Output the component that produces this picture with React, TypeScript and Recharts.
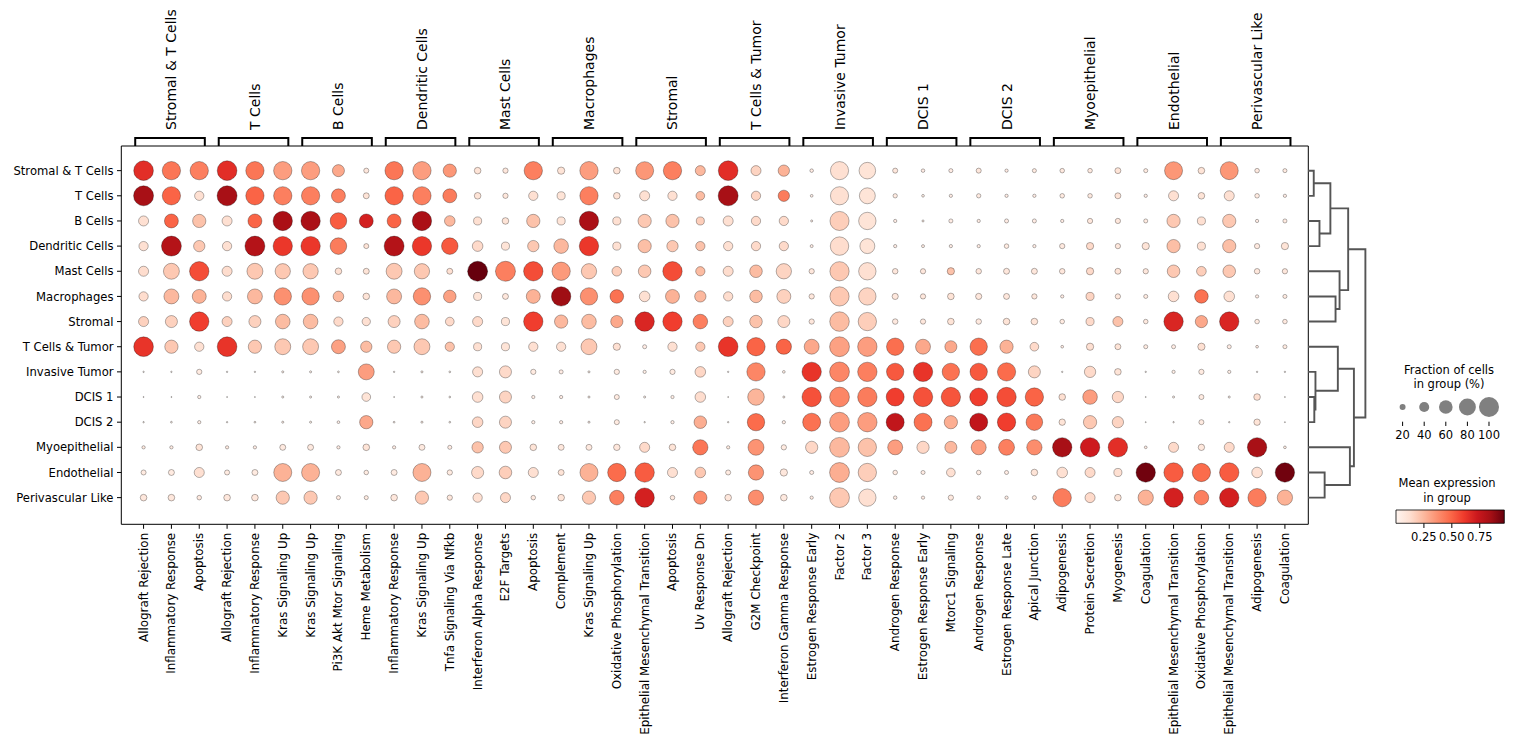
import React from "react";
import { ScatterChart, Scatter, XAxis, YAxis, ZAxis, ReferenceArea } from "recharts";

const FONT = "'DejaVu Sans', 'Liberation Sans', sans-serif";

// cell groups (rows) — the column groups use the same names in the same order
const ROWS = [
  "Stromal & T Cells", "T Cells", "B Cells", "Dendritic Cells", "Mast Cells", "Macrophages", "Stromal",
  "T Cells & Tumor", "Invasive Tumor", "DCIS 1", "DCIS 2", "Myoepithelial", "Endothelial", "Perivascular Like",
];

const GROUP_TERMS = [
  ["Allograft Rejection", "Inflammatory Response", "Apoptosis"],
  ["Allograft Rejection", "Inflammatory Response", "Kras Signaling Up"],
  ["Kras Signaling Up", "Pi3K Akt Mtor Signaling", "Heme Metabolism"],
  ["Inflammatory Response", "Kras Signaling Up", "Tnfa Signaling Via Nfkb"],
  ["Interferon Alpha Response", "E2F Targets", "Apoptosis"],
  ["Complement", "Kras Signaling Up", "Oxidative Phosphorylation"],
  ["Epithelial Mesenchymal Transition", "Apoptosis", "Uv Response Dn"],
  ["Allograft Rejection", "G2M Checkpoint", "Interferon Gamma Response"],
  ["Estrogen Response Early", "Factor 2", "Factor 3"],
  ["Androgen Response", "Estrogen Response Early", "Mtorc1 Signaling"],
  ["Androgen Response", "Estrogen Response Late", "Apical Junction"],
  ["Adipogenesis", "Protein Secretion", "Myogenesis"],
  ["Coagulation", "Epithelial Mesenchymal Transition", "Oxidative Phosphorylation"],
  ["Epithelial Mesenchymal Transition", "Adipogenesis", "Coagulation"],
];

// per term: fraction of cells in group (%) and mean expression, one value per row (ROWS order)
const ALLOGRAFT_FRAC = [98, 100, 40, 36, 40, 36, 40, 98, 3, 2, 3, 9, 16, 23];
const ALLOGRAFT_EXPR = [0.65, 0.84, 0.12, 0.12, 0.13, 0.13, 0.17, 0.63, 0.02, 0.02, 0.02, 0.06, 0.06, 0.08];
const INFLAM_FRAC = [89, 89, 62, 100, 74, 68, 51, 58, 3, 2, 4, 9, 20, 23];
const INFLAM_EXPR = [0.45, 0.5, 0.5, 0.8, 0.2, 0.25, 0.17, 0.2, 0.02, 0.02, 0.02, 0.05, 0.06, 0.08];
const APOPTOSIS_FRAC = [89, 36, 58, 47, 96, 62, 96, 36, 17, 9, 9, 23, 40, 14];
const APOPTOSIS_EXPR = [0.42, 0.12, 0.22, 0.2, 0.56, 0.27, 0.6, 0.12, 0.06, 0.04, 0.04, 0.1, 0.12, 0.07];
const KRAS_FRAC = [89, 89, 96, 96, 70, 83, 66, 74, 5, 5, 5, 20, 87, 58];
const KRAS_EXPR = [0.33, 0.42, 0.83, 0.62, 0.2, 0.37, 0.24, 0.2, 0.03, 0.03, 0.03, 0.07, 0.27, 0.2];
const PI3K_FRAC = [51, 62, 78, 78, 23, 43, 36, 62, 4, 5, 7, 9, 20, 12];
const PI3K_EXPR = [0.3, 0.42, 0.52, 0.43, 0.12, 0.25, 0.14, 0.32, 0.02, 0.03, 0.03, 0.05, 0.07, 0.06];
const HEME_FRAC = [16, 20, 62, 16, 20, 23, 31, 47, 74, 33, 58, 23, 14, 12];
const HEME_EXPR = [0.08, 0.1, 0.7, 0.1, 0.1, 0.1, 0.12, 0.24, 0.33, 0.1, 0.3, 0.1, 0.06, 0.06];
const TNFA_FRAC = [58, 62, 43, 78, 20, 54, 33, 36, 4, 4, 4, 12, 17, 17];
const TNFA_EXPR = [0.35, 0.43, 0.25, 0.53, 0.12, 0.32, 0.14, 0.22, 0.02, 0.02, 0.02, 0.05, 0.06, 0.08];
const IFNA_FRAC = [23, 23, 30, 43, 100, 30, 40, 30, 40, 43, 43, 47, 51, 36];
const IFNA_EXPR = [0.1, 0.1, 0.12, 0.14, 0.97, 0.1, 0.14, 0.12, 0.12, 0.12, 0.15, 0.22, 0.14, 0.12];
const E2F_FRAC = [17, 17, 23, 30, 100, 20, 30, 30, 51, 51, 51, 51, 54, 40];
const E2F_EXPR = [0.08, 0.08, 0.1, 0.1, 0.42, 0.08, 0.1, 0.1, 0.14, 0.16, 0.16, 0.2, 0.18, 0.15];
const COMPLEMENT_FRAC = [26, 30, 30, 66, 89, 96, 58, 36, 12, 9, 9, 20, 20, 23];
const COMPLEMENT_EXPR = [0.1, 0.1, 0.1, 0.25, 0.34, 0.86, 0.25, 0.12, 0.05, 0.05, 0.05, 0.08, 0.1, 0.1];
const OXPHOS_FRAC = [23, 23, 30, 30, 38, 60, 52, 26, 17, 16, 16, 22, 89, 66];
const OXPHOS_EXPR = [0.1, 0.1, 0.12, 0.12, 0.18, 0.46, 0.3, 0.12, 0.06, 0.06, 0.06, 0.08, 0.48, 0.42];
const EMT_FRAC = [87, 40, 58, 58, 54, 43, 96, 12, 9, 5, 3, 40, 96, 96];
const EMT_EXPR = [0.35, 0.12, 0.2, 0.23, 0.2, 0.12, 0.68, 0.05, 0.04, 0.03, 0.03, 0.14, 0.52, 0.7];
const UV_DN_FRAC = [40, 33, 30, 36, 36, 47, 66, 36, 43, 43, 54, 70, 43, 58];
const UV_DN_EXPR = [0.25, 0.24, 0.18, 0.22, 0.24, 0.25, 0.42, 0.2, 0.15, 0.13, 0.28, 0.45, 0.2, 0.38];
const G2M_FRAC = [40, 36, 36, 36, 54, 54, 54, 89, 89, 78, 83, 74, 70, 70];
const G2M_EXPR = [0.16, 0.16, 0.14, 0.14, 0.24, 0.24, 0.22, 0.5, 0.4, 0.26, 0.48, 0.36, 0.36, 0.38];
const IFNG_FRAC = [47, 47, 36, 36, 70, 62, 51, 70, 7, 5, 9, 17, 26, 23];
const IFNG_EXPR = [0.27, 0.43, 0.14, 0.14, 0.16, 0.17, 0.15, 0.5, 0.04, 0.03, 0.04, 0.06, 0.08, 0.07];
const ESTR_EARLY_FRAC = [10, 7, 5, 8, 17, 17, 17, 68, 96, 96, 87, 52, 12, 9];
const ESTR_EARLY_EXPR = [0.05, 0.04, 0.04, 0.05, 0.08, 0.08, 0.08, 0.3, 0.63, 0.55, 0.46, 0.15, 0.05, 0.05];
const FACTOR2_FRAC = [88, 88, 94, 90, 95, 95, 97, 99, 99, 99, 99, 99, 99, 99];
const FACTOR2_EXPR = [0.12, 0.12, 0.18, 0.13, 0.2, 0.2, 0.24, 0.32, 0.4, 0.4, 0.33, 0.25, 0.28, 0.2];
const FACTOR3_FRAC = [78, 74, 83, 68, 83, 83, 89, 96, 96, 96, 96, 89, 89, 83];
const FACTOR3_EXPR = [0.1, 0.1, 0.1, 0.1, 0.12, 0.16, 0.18, 0.33, 0.42, 0.43, 0.33, 0.22, 0.18, 0.12];
const ANDROGEN_FRAC = [16, 13, 9, 9, 18, 21, 18, 83, 83, 87, 87, 68, 14, 10];
const ANDROGEN_EXPR = [0.08, 0.06, 0.05, 0.05, 0.08, 0.08, 0.07, 0.47, 0.53, 0.6, 0.76, 0.33, 0.06, 0.05];
const MTORC1_FRAC = [12, 9, 12, 9, 26, 23, 23, 51, 83, 96, 58, 51, 33, 17];
const MTORC1_EXPR = [0.05, 0.05, 0.05, 0.05, 0.22, 0.1, 0.1, 0.3, 0.46, 0.54, 0.28, 0.25, 0.12, 0.07];
const ESTR_LATE_FRAC = [9, 9, 12, 14, 20, 20, 23, 58, 89, 96, 89, 74, 12, 9];
const ESTR_LATE_EXPR = [0.05, 0.05, 0.05, 0.06, 0.08, 0.08, 0.1, 0.27, 0.48, 0.56, 0.6, 0.42, 0.05, 0.05];
const APICAL_FRAC = [12, 9, 12, 9, 20, 17, 23, 33, 51, 89, 78, 70, 23, 12];
const APICAL_EXPR = [0.06, 0.05, 0.05, 0.05, 0.08, 0.08, 0.1, 0.14, 0.16, 0.5, 0.44, 0.38, 0.1, 0.06];
const ADIPO_FRAC = [14, 14, 9, 17, 18, 9, 14, 7, 3, 23, 22, 96, 43, 89];
const ADIPO_EXPR = [0.07, 0.06, 0.05, 0.07, 0.08, 0.05, 0.06, 0.05, 0.03, 0.12, 0.1, 0.84, 0.12, 0.43];
const PROT_SEC_FRAC = [14, 14, 17, 26, 26, 30, 30, 26, 47, 66, 58, 96, 40, 40];
const PROT_SEC_EXPR = [0.07, 0.07, 0.08, 0.14, 0.14, 0.16, 0.14, 0.12, 0.14, 0.33, 0.2, 0.72, 0.14, 0.14];
const MYOGEN_FRAC = [20, 20, 17, 17, 20, 17, 40, 20, 23, 47, 47, 96, 30, 23];
const MYOGEN_EXPR = [0.1, 0.1, 0.08, 0.08, 0.1, 0.08, 0.22, 0.1, 0.1, 0.15, 0.16, 0.65, 0.12, 0.1];
const COAG_FRAC = [12, 9, 12, 26, 17, 12, 14, 12, 3, 2, 2, 7, 96, 70];
const COAG_EXPR = [0.06, 0.05, 0.06, 0.1, 0.08, 0.06, 0.07, 0.06, 0.03, 0.02, 0.02, 0.05, 0.95, 0.27];

const TERMS: Record<string, { frac: number[]; expr: number[] }> = {
  "Allograft Rejection": { frac: ALLOGRAFT_FRAC, expr: ALLOGRAFT_EXPR },
  "Inflammatory Response": { frac: INFLAM_FRAC, expr: INFLAM_EXPR },
  "Apoptosis": { frac: APOPTOSIS_FRAC, expr: APOPTOSIS_EXPR },
  "Kras Signaling Up": { frac: KRAS_FRAC, expr: KRAS_EXPR },
  "Pi3K Akt Mtor Signaling": { frac: PI3K_FRAC, expr: PI3K_EXPR },
  "Heme Metabolism": { frac: HEME_FRAC, expr: HEME_EXPR },
  "Tnfa Signaling Via Nfkb": { frac: TNFA_FRAC, expr: TNFA_EXPR },
  "Interferon Alpha Response": { frac: IFNA_FRAC, expr: IFNA_EXPR },
  "E2F Targets": { frac: E2F_FRAC, expr: E2F_EXPR },
  "Complement": { frac: COMPLEMENT_FRAC, expr: COMPLEMENT_EXPR },
  "Oxidative Phosphorylation": { frac: OXPHOS_FRAC, expr: OXPHOS_EXPR },
  "Epithelial Mesenchymal Transition": { frac: EMT_FRAC, expr: EMT_EXPR },
  "Uv Response Dn": { frac: UV_DN_FRAC, expr: UV_DN_EXPR },
  "G2M Checkpoint": { frac: G2M_FRAC, expr: G2M_EXPR },
  "Interferon Gamma Response": { frac: IFNG_FRAC, expr: IFNG_EXPR },
  "Estrogen Response Early": { frac: ESTR_EARLY_FRAC, expr: ESTR_EARLY_EXPR },
  "Factor 2": { frac: FACTOR2_FRAC, expr: FACTOR2_EXPR },
  "Factor 3": { frac: FACTOR3_FRAC, expr: FACTOR3_EXPR },
  "Androgen Response": { frac: ANDROGEN_FRAC, expr: ANDROGEN_EXPR },
  "Mtorc1 Signaling": { frac: MTORC1_FRAC, expr: MTORC1_EXPR },
  "Estrogen Response Late": { frac: ESTR_LATE_FRAC, expr: ESTR_LATE_EXPR },
  "Apical Junction": { frac: APICAL_FRAC, expr: APICAL_EXPR },
  "Adipogenesis": { frac: ADIPO_FRAC, expr: ADIPO_EXPR },
  "Protein Secretion": { frac: PROT_SEC_FRAC, expr: PROT_SEC_EXPR },
  "Myogenesis": { frac: MYOGEN_FRAC, expr: MYOGEN_EXPR },
  "Coagulation": { frac: COAG_FRAC, expr: COAG_EXPR },
};

// row dendrogram, scipy-style: [left, right, height]; leaves 0..13, merged nodes numbered from 14
const DENDRO_LINKS = [
  [0, 1, 0.1], [2, 3, 0.2], [14, 15, 0.39], [5, 6, 0.48], [4, 17, 0.55], [16, 18, 0.7],
  [9, 10, 0.11], [8, 20, 0.13], [7, 21, 0.52], [12, 13, 0.29], [11, 23, 0.73], [22, 24, 0.8],
  [19, 25, 1.0],
];

const SIZE_LEGEND = [20, 40, 60, 80, 100];
const COLORBAR_TICKS = [0.25, 0.5, 0.75];
const EXPR_MAX = 0.97;

const REDS = ["#fff5f0", "#fee0d2", "#fcbba1", "#fc9272", "#fb6a4a", "#ef3b2c", "#cb181d", "#a50f15", "#67000d"];
const SIZE_EXP = 1.5;
const MAX_AREA = Math.PI * 10 * 10;

const X_DOMAIN: [number, number] = [-0.8, 41.84];
const Y_DOMAIN: [number, number] = [-0.98, 14.06];

function hexRgb(h: string) {
  return [1, 3, 5].map((i) => parseInt(h.slice(i, i + 2), 16));
}

function reds(t: number) {
  const v = Math.max(0, Math.min(1, t)) * (REDS.length - 1);
  const i = Math.min(REDS.length - 2, Math.floor(v));
  const f = v - i;
  const a = hexRgb(REDS[i]);
  const b = hexRgb(REDS[i + 1]);
  const c = a.map((x, k) => Math.round(x + (b[k] - x) * f));
  return `rgb(${c[0]},${c[1]},${c[2]})`;
}

const COLS = GROUP_TERMS.flat();

const dots = COLS.flatMap((term, c) =>
  ROWS.map((_, r) => ({
    x: c,
    y: r,
    z: Math.pow(TERMS[term].frac[r] / 100, SIZE_EXP),
    expr: TERMS[term].expr[r],
  }))
);

const brackets = GROUP_TERMS.map((terms, g) => {
  const a = g * 3 - 0.3;
  const b = g * 3 + terms.length - 1 + 0.2;
  return [{ x: a, y: 0 }, { x: a, y: 1 }, { x: b, y: 1 }, { x: b, y: 0 }];
});
const groupCenters = GROUP_TERMS.map((_, g) => g * 3 + 1);

// dendrogram link paths
const nodePos: number[] = ROWS.map((_, i) => i);
const nodeH: number[] = ROWS.map(() => 0);
const dendroPaths = DENDRO_LINKS.map(([l, r, h]) => {
  const path = [
    { x: nodeH[l], y: nodePos[l] },
    { x: h, y: nodePos[l] },
    { x: h, y: nodePos[r] },
    { x: nodeH[r], y: nodePos[r] },
  ];
  nodePos.push((nodePos[l] + nodePos[r]) / 2);
  nodeH.push(h);
  return path;
});

const sizeLegendData = SIZE_LEGEND.map((v) => ({ x: v, y: 0.5, z: Math.pow(v / 100, SIZE_EXP) }));
const colorbarExtent = [{ x: 0, y: 0 }, { x: EXPR_MAX, y: 1 }];

function Dot(props: any) {
  const { cx, cy, size } = props;
  const p = props.payload ?? props;
  const r = Math.sqrt(Math.max(size || 0, 0) / Math.PI);
  return (
    <circle cx={cx} cy={cy} r={r} fill={reds(p.expr / EXPR_MAX)} stroke="#000" strokeOpacity={0.5} strokeWidth={0.6} />
  );
}

function GrayDot(props: any) {
  const r = Math.sqrt(Math.max(props.size || 0, 0) / Math.PI);
  return <circle cx={props.cx} cy={props.cy} r={r} fill="#808080" />;
}

function BottomTick(props: any) {
  const { x, y, payload } = props;
  return (
    <text x={x} y={y} transform={`rotate(-90 ${x} ${y})`} textAnchor="end" dominantBaseline="central"
      fontSize={11.9} fontFamily={FONT} fill="#000">
      {COLS[payload.value]}
    </text>
  );
}

function TopTick(props: any) {
  const { x, y, payload } = props;
  return (
    <text x={x} y={y} transform={`rotate(-90 ${x} ${y})`} textAnchor="start" dominantBaseline="central"
      fontSize={14} fontFamily={FONT} fill="#000">
      {ROWS[Math.round((payload.value - 1) / 3)]}
    </text>
  );
}

const Empty = () => <g />;

const titleStyle: React.CSSProperties = {
  position: "absolute", width: 140, textAlign: "center", fontFamily: FONT, fontSize: 11.5,
  lineHeight: "14.5px", color: "#000",
};

export default function App() {
  return (
    <div style={{ position: "absolute", left: 0, top: 0, width: 1514, height: 745, background: "#fff", fontFamily: FONT }}>
      <svg width={0} height={0} style={{ position: "absolute" }}>
        <defs>
          <linearGradient id="redsBar" x1="0" y1="0" x2="1" y2="0">
            {REDS.map((c, i) => (
              <stop key={i} offset={`${(i / (REDS.length - 1)) * 100}%`} stopColor={c} />
            ))}
          </linearGradient>
        </defs>
      </svg>

      {/* main dot plot */}
      <div style={{ position: "absolute", left: 0, top: 0 }}>
        <ScatterChart width={1309} height={745} margin={{ top: 146, right: 0.7, bottom: 0, left: 0 }}>
          <XAxis type="number" dataKey="x" domain={X_DOMAIN} allowDataOverflow ticks={COLS.map((_, i) => i)}
            interval={0} height={220.7} axisLine={false} stroke="#000" tickLine={{ stroke: "#000" }}
            tickSize={4.5} tickMargin={4} tick={BottomTick} />
          <YAxis type="number" dataKey="y" domain={Y_DOMAIN} allowDataOverflow reversed ticks={ROWS.map((_, i) => i)}
            interval={0} width={121.3} axisLine={false} stroke="#000" tickLine={{ stroke: "#000" }}
            tickSize={4.3} tickMargin={3.5} tickFormatter={(v: number) => ROWS[v]}
            tick={{ fontSize: 11.6, fill: "#000", fontFamily: FONT }} />
          <ZAxis type="number" dataKey="z" domain={[0, 1]} range={[0, MAX_AREA]} />
          <ReferenceArea x1={X_DOMAIN[0]} x2={X_DOMAIN[1]} y1={Y_DOMAIN[0]} y2={Y_DOMAIN[1]}
            fill="none" fillOpacity={0} stroke="#000" strokeWidth={1} ifOverflow="visible" />
          <Scatter data={dots} shape={Dot} isAnimationActive={false} />
        </ScatterChart>
      </div>

      {/* group brackets and labels */}
      <div style={{ position: "absolute", left: 0, top: 0 }}>
        <ScatterChart width={1309} height={146} margin={{ top: 0, right: 0.7, bottom: 0, left: 121.3 }}>
          <XAxis type="number" dataKey="x" orientation="top" domain={X_DOMAIN} allowDataOverflow ticks={groupCenters}
            interval={0} height={138} axisLine={false} tickLine={false} tickSize={0} tickMargin={8} tick={TopTick} />
          <YAxis type="number" dataKey="y" domain={[0, 1]} hide />
          {brackets.map((b, i) => (
            <Scatter key={i} data={b} shape={Empty} line={{ stroke: "#000", strokeWidth: 2 }} isAnimationActive={false} />
          ))}
        </ScatterChart>
      </div>

      {/* dendrogram */}
      <div style={{ position: "absolute", left: 1308.3, top: 0 }}>
        <ScatterChart width={61.4} height={745} margin={{ top: 146, right: 4, bottom: 220.7, left: 0 }}>
          <XAxis type="number" dataKey="x" domain={[0, 1]} hide />
          <YAxis type="number" dataKey="y" domain={Y_DOMAIN} reversed hide />
          {dendroPaths.map((p, i) => (
            <Scatter key={i} data={p} shape={Empty} line={{ stroke: "#555555", strokeWidth: 1.9 }} isAnimationActive={false} />
          ))}
        </ScatterChart>
      </div>

      {/* size legend */}
      <div style={{ ...titleStyle, left: 1379, top: 362.75 }}>Fraction of cells<br />in group (%)</div>
      <div style={{ position: "absolute", left: 1371, top: 0 }}>
        <ScatterChart width={140} height={446.7} margin={{ top: 392.3, right: 11.2, bottom: 0, left: 10 }}>
          <XAxis type="number" dataKey="x" domain={[0, 110]} ticks={SIZE_LEGEND} interval={0} height={25}
            axisLine={false} stroke="#000" tickLine={{ stroke: "#000" }} tickSize={4.3} tickMargin={5}
            tick={{ fontSize: 11.5, fill: "#000", fontFamily: FONT }} />
          <YAxis type="number" dataKey="y" domain={[0, 1]} hide />
          <ZAxis type="number" dataKey="z" domain={[0, 1]} range={[0, MAX_AREA]} />
          <Scatter data={sizeLegendData} shape={GrayDot} isAnimationActive={false} />
        </ScatterChart>
      </div>

      {/* colorbar */}
      <div style={{ ...titleStyle, left: 1377, top: 476 }}>Mean expression<br />in group</div>
      <div style={{ position: "absolute", left: 1385.7, top: 0 }}>
        <ScatterChart width={128.3} height={548.3} margin={{ top: 510, right: 10, bottom: 0, left: 10 }}>
          <XAxis type="number" dataKey="x" domain={[0, EXPR_MAX]} allowDataOverflow ticks={COLORBAR_TICKS} interval={0}
            height={25} axisLine={false} stroke="#000" tickLine={{ stroke: "#000" }} tickSize={4.7} tickMargin={5}
            tickFormatter={(v: number) => v.toFixed(2)} tick={{ fontSize: 11.5, fill: "#000", fontFamily: FONT }} />
          <YAxis type="number" dataKey="y" domain={[0, 1]} allowDataOverflow hide />
          <ReferenceArea x1={0} x2={EXPR_MAX} y1={0} y2={1} fill="url(#redsBar)" fillOpacity={1}
            stroke="#000" strokeWidth={0.8} ifOverflow="visible" />
          <Scatter data={colorbarExtent} shape={Empty} isAnimationActive={false} />
        </ScatterChart>
      </div>
    </div>
  );
}
